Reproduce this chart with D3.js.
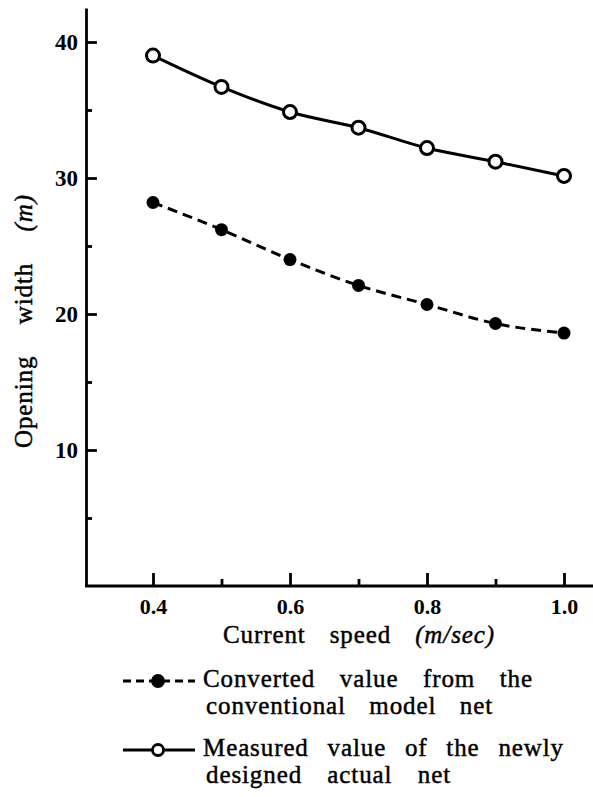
<!doctype html>
<html>
<head>
<meta charset="utf-8"/>
<title>Opening width vs current speed</title>
<script src="https://d3js.org/d3.v7.min.js"></script>
<style>
  body { margin: 0; background: #fff; }
</style>
</head>
<body>
<div id="chart"></div>
<script>
// data
var speeds = [0.4, 0.5, 0.6, 0.7, 0.8, 0.9, 1.0];
var measured = [39.0, 36.7, 34.85, 33.7, 32.2, 31.2, 30.15];
var converted = [28.2, 26.2, 24.0, 22.1, 20.7, 19.3, 18.6];

var yMajor = [10, 20, 30, 40];
var yMinor = [5, 15, 25, 35];
var xMajor = [0.4, 0.6, 0.8, 1.0];
var xMinor = [0.5, 0.7, 0.9];

var legendText = [
  ["Converted value from the", "conventional model net"],
  ["Measured value of the newly", "designed actual net"]
];

var serif = "'Liberation Serif', 'DejaVu Serif', serif";

var svg = d3.select("#chart")
  .append("svg")
  .attr("width", 593)
  .attr("height", 797);

var x = d3.scaleLinear().domain([0.4, 1.0]).range([153, 564]);
var y = d3.scaleLinear().domain([0, 42.5]).range([586, 8]);
var x0 = 86;

// spread the words so the line is as wide as in the print
function fit(sel, target) {
  var n = sel.node();
  var w = n.getComputedTextLength();
  var spaces = (n.textContent.match(/ /g) || []).length;
  sel.attr("word-spacing", Math.max(0, (target - w) / spaces));
}

function label(sel) {
  return sel.attr("font-family", serif)
    .attr("font-size", 25)
    .attr("letter-spacing", 0.9)
    .attr("fill", "#000")
    .attr("stroke", "#000")
    .attr("stroke-width", 0.45);
}

// y axis
var gy = svg.append("g").attr("transform", "translate(" + x0 + ",0)");
gy.call(d3.axisLeft(y).tickValues(yMajor).tickSize(-11).tickSizeOuter(0).tickPadding(8));
gy.append("g").call(d3.axisLeft(y).tickValues(yMinor).tickSize(-6).tickFormat(""));
gy.selectAll("g > g > .domain").remove();
gy.selectAll("path, line").attr("stroke", "#000").attr("stroke-width", 2.8);
gy.selectAll("text")
  .attr("font-family", serif)
  .attr("font-weight", "bold")
  .attr("font-size", 23)
  .attr("fill", "#000");

// x axis
var gx = svg.append("g").attr("transform", "translate(0," + y(0) + ")");
gx.append("line")
  .attr("x1", x0 - 1).attr("x2", 593)
  .attr("stroke", "#000").attr("stroke-width", 2.8);
gx.append("g").call(d3.axisBottom(x).tickValues(xMajor).tickSize(-13).tickPadding(12).tickFormat(d3.format(".1f")));
gx.append("g").call(d3.axisBottom(x).tickValues(xMinor).tickSize(-7).tickFormat(""));
gx.selectAll(".domain").remove();
gx.selectAll("g line").attr("stroke", "#000").attr("stroke-width", 2.8);
gx.selectAll("text")
  .attr("font-family", serif)
  .attr("font-weight", "bold")
  .attr("font-size", 22)
  .attr("fill", "#000");

// axis titles
var xt = label(svg.append("text"))
  .attr("x", 223).attr("y", 643);
xt.append("tspan").text("Current speed ");
xt.append("tspan").attr("font-style", "italic").text("(m/sec)");
fit(xt, 272);

var yt = label(svg.append("text"))
  .attr("transform", "translate(32,448) rotate(-90)");
yt.append("tspan").text("Opening width ");
yt.append("tspan").attr("font-style", "italic").text("(m)");
fit(yt, 254);

// lines
var line = d3.line()
  .x(function(d, i) { return x(speeds[i]); })
  .y(function(d) { return y(d); })
  .curve(d3.curveMonotoneX);

svg.append("path")
  .datum(converted)
  .attr("d", line)
  .attr("fill", "none")
  .attr("stroke", "#000")
  .attr("stroke-width", 3)
  .attr("stroke-dasharray", "10,6");

svg.append("path")
  .datum(measured)
  .attr("d", line)
  .attr("fill", "none")
  .attr("stroke", "#000")
  .attr("stroke-width", 3);

svg.selectAll(".dotC")
  .data(converted)
  .enter().append("circle")
  .attr("cx", function(d, i) { return x(speeds[i]); })
  .attr("cy", function(d) { return y(d); })
  .attr("r", 6.5)
  .attr("fill", "#000");

svg.selectAll(".dotM")
  .data(measured)
  .enter().append("circle")
  .attr("cx", function(d, i) { return x(speeds[i]); })
  .attr("cy", function(d) { return y(d); })
  .attr("r", 6.5)
  .attr("fill", "#fff")
  .attr("stroke", "#000")
  .attr("stroke-width", 3);

// legend
var leg = [
  { y: 687, dash: "8,5", fill: "#000", w: [330, 287], text: legendText[0] },
  { y: 756, dash: null, fill: "#fff", w: [361, 245], text: legendText[1] }
];

leg.forEach(function(d) {
  svg.append("line")
    .attr("x1", 123).attr("x2", 195)
    .attr("y1", d.y - 6).attr("y2", d.y - 6)
    .attr("stroke", "#000").attr("stroke-width", 2.8)
    .attr("stroke-dasharray", d.dash);
  svg.append("circle")
    .attr("cx", 158).attr("cy", d.y - 6).attr("r", 5.5)
    .attr("fill", d.fill).attr("stroke", "#000").attr("stroke-width", 2.8);
  var t1 = label(svg.append("text"))
    .attr("x", 203).attr("y", d.y)
    .text(d.text[0]);
  fit(t1, d.w[0]);
  var t2 = label(svg.append("text"))
    .attr("x", 206).attr("y", d.y + 27)
    .text(d.text[1]);
  fit(t2, d.w[1]);
});
</script>
</body>
</html>
